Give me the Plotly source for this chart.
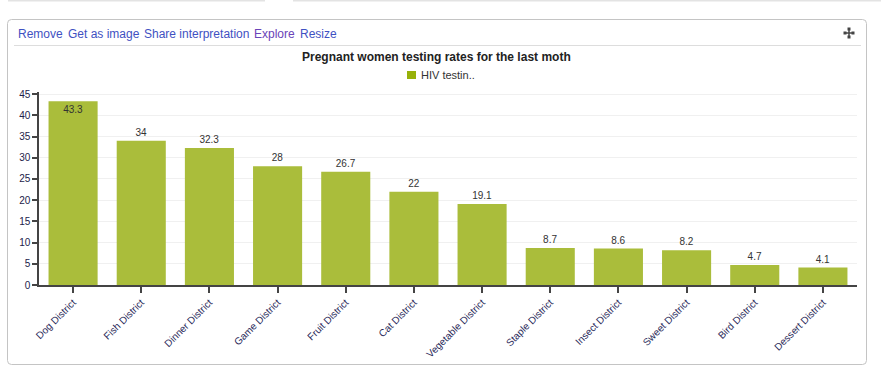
import plotly.graph_objects as go

districts = ["Dog District", "Fish District", "Dinner District", "Game District",
             "Fruit District", "Cat District", "Vegetable District", "Staple District",
             "Insect District", "Sweet District", "Bird District", "Dessert District"]
hiv_testing = [43.3, 34, 32.3, 28, 26.7, 22, 19.1, 8.7, 8.6, 8.2, 4.7, 4.1]
series_name = "HIV testin.."
chart_title = "Pregnant women testing rates for the last moth"
toolbar_links = ["Remove", "Get as image", "Share interpretation", "Explore", "Resize"]
y_ticks = [0, 5, 10, 15, 20, 25, 30, 35, 40, 45]

W, H = 881, 374
L, R, T, B = 39, 857, 92, 285


def px(x):
    return (x - L) / (R - L)


def py(y):
    return (B - y) / (B - T)


text_pos = ["inside" if v > 40 else "outside" for v in hiv_testing]

fig = go.Figure()
fig.add_trace(go.Bar(
    x=districts, y=hiv_testing, name=series_name,
    marker=dict(color="#aabd3b", line=dict(width=0)),
    text=[f"{v:g}" for v in hiv_testing],
    textposition=text_pos,
    insidetextanchor="end",
    textfont=dict(size=10, color="#333333", family="Liberation Sans"),
    insidetextfont=dict(size=10, color="#333333", family="Liberation Sans"),
    outsidetextfont=dict(size=10, color="#333333", family="Liberation Sans"),
    cliponaxis=False,
    showlegend=False,
))

shapes = []
# top page lines
shapes.append(dict(type="line", xref="paper", yref="paper", x0=px(8), x1=px(265), y0=py(0.5), y1=py(0.5),
                   line=dict(color="#e3e3e3", width=2)))
shapes.append(dict(type="line", xref="paper", yref="paper", x0=px(293), x1=px(881), y0=py(0.5), y1=py(0.5),
                   line=dict(color="#e3e3e3", width=2)))
# card
x0c, y0c, x1c, y1c, r = 7.5, 19.5, 866.5, 364.5, 4
path = (f"M {px(x0c + r)},{py(y0c)} L {px(x1c - r)},{py(y0c)} "
        f"Q {px(x1c)},{py(y0c)} {px(x1c)},{py(y0c + r)} "
        f"L {px(x1c)},{py(y1c - r)} Q {px(x1c)},{py(y1c)} {px(x1c - r)},{py(y1c)} "
        f"L {px(x0c + r)},{py(y1c)} Q {px(x0c)},{py(y1c)} {px(x0c)},{py(y1c - r)} "
        f"L {px(x0c)},{py(y0c + r)} Q {px(x0c)},{py(y0c)} {px(x0c + r)},{py(y0c)} Z")
shapes.append(dict(type="path", xref="paper", yref="paper", path=path,
                   line=dict(color="#c4c4c4", width=1), layer="below"))
# separator
shapes.append(dict(type="line", xref="paper", yref="paper", x0=px(14), x1=px(861), y0=py(45.5), y1=py(45.5),
                   line=dict(color="#dddddd", width=1)))
# move icon (four-way arrow)
shapes.append(dict(type="line", xref="paper", yref="paper", x0=px(845), x1=px(853), y0=py(33), y1=py(33),
                   line=dict(color="#444444", width=1.5)))
shapes.append(dict(type="line", xref="paper", yref="paper", x0=px(849), x1=px(849), y0=py(29), y1=py(37),
                   line=dict(color="#444444", width=1.5)))
for (ax, ay) in [(845, 33), (853, 33), (849, 29), (849, 37)]:
    shapes.append(dict(type="rect", xref="paper", yref="paper", x0=px(ax - 1.5), x1=px(ax + 1.5),
                       y0=py(ay - 1.5), y1=py(ay + 1.5), fillcolor="#444444", line=dict(width=0)))
# legend swatch
shapes.append(dict(type="rect", xref="paper", yref="paper", x0=px(407), x1=px(416), y0=py(71), y1=py(79),
                   fillcolor="#97b109", line=dict(width=0)))

annotations = []
link_x = [16, 66, 142, 252, 298]
link_colors = ["#3f51c2", "#3f51c2", "#3f51c2", "#6a44b8", "#3f51c2"]
for t, x, c in zip(toolbar_links, link_x, link_colors):
    annotations.append(dict(text=t, xref="paper", yref="paper", x=px(x), y=py(34),
                            xanchor="left", yanchor="middle", showarrow=False,
                            font=dict(size=12, color=c, family="Liberation Sans")))
annotations.append(dict(text=f"<b>{chart_title}</b>", xref="paper", yref="paper", x=px(436.5), y=py(57),
                        xanchor="center", yanchor="middle", showarrow=False,
                        font=dict(size=12, color="#222222", family="Liberation Sans")))
annotations.append(dict(text=series_name, xref="paper", yref="paper", x=px(419), y=py(75),
                        xanchor="left", yanchor="middle", showarrow=False,
                        font=dict(size=11, color="#333333", family="Liberation Sans")))

fig.update_layout(
    width=W, height=H,
    margin=dict(l=L, r=W - R, t=T, b=H - B, pad=0),
    paper_bgcolor="white", plot_bgcolor="white",
    bargap=0.28,
    shapes=shapes, annotations=annotations,
    font=dict(family="Liberation Sans", size=10, color="#22224a"),
    xaxis=dict(
        tickangle=-45, showline=True, linecolor="#444444", linewidth=1.5,
        ticks="outside", ticklen=6, tickcolor="#444444", tickwidth=1.5,
        tickfont=dict(size=10, color="#2a2a5a"), showgrid=False,
    ),
    yaxis=dict(
        range=[0, 45.5], tickvals=y_ticks, showline=True, linecolor="#444444", linewidth=1.5,
        ticks="outside", ticklen=5, tickcolor="#444444", tickwidth=1.5,
        gridcolor="#f0f0f0", gridwidth=1, zeroline=False,
        tickfont=dict(size=10, color="#22224a"),
    ),
)

fig.write_html("out.html")
